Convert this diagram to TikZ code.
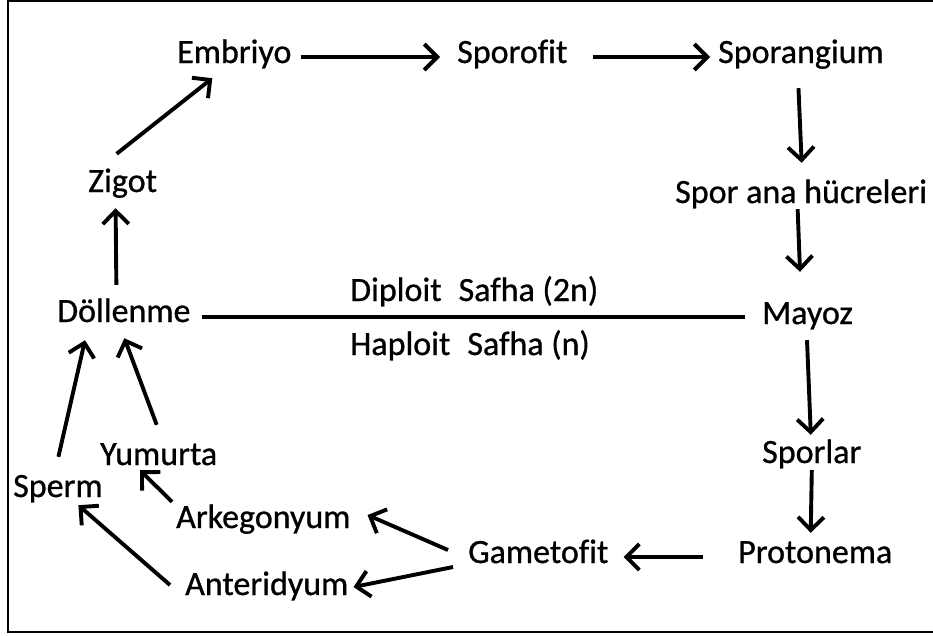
\documentclass[tikz,border=0pt]{standalone}
\usepackage{fontspec}
\setmainfont{Carlito}[Ligatures=CommonOff,FakeBold=0.8]
\usetikzlibrary{arrows.meta,calc}
\begin{document}
\begin{tikzpicture}[x=1pt,y=-1pt,
  lbl/.style={anchor=base west,inner sep=0pt,text height=22pt,text depth=7pt,
    font=\fontsize{34}{40}\selectfont},
  arr/.style={line width=3.9pt,-{Straight Barb[length=13pt,width=26pt,line width=3.9pt]}},
  phase/.style={line width=4.8pt},
  frame/.style={line width=2pt}]
\useasboundingbox (0,0) rectangle (933,635);
\draw[frame] (945,1) -- (8,1) -- (8,632) -- (945,632);
% nodes
\node[lbl] (emb) at (177,63) {Embriyo};
\node[lbl] (spf) at (457,63) {Sporofit};
\node[lbl] (spg) at (718,63) {Sporangium};
\node[lbl] (spa) at (675,203) {Spor ana hücreleri};
\node[lbl] (may) at (762,324) {Mayoz};
\node[lbl] (dol) at (57,322) {Döllenme};
\node[lbl] (dip) at (350,301) {Diploit\hspace{0.5em}Safha (2n)};
\node[lbl] (hap) at (350,355) {Haploit\hspace{0.5em}Safha (n)};
\node[lbl] (zig) at (88,192) {Zigot};
\node[lbl] (yum) at (100,465) {Yumurta};
\node[lbl] (spm) at (13,497) {Sperm};
\node[lbl] (ark) at (176,528) {Arkegonyum};
\node[lbl] (ant) at (185,595) {Anteridyum};
\node[lbl] (spl) at (762,463) {Sporlar};
\node[lbl] (pro) at (738,563) {Protonema};
\node[lbl] (gam) at (468,563) {Gametofit};
% connectors
\draw[phase] ($(dol.east)+(11,2.5)$) -- ($(may.west)+(-17,0.5)$);
\draw[arr] ($(dol.north)+(-7.5,-15)$) -- ($(zig.south)+(-7,9)$);
\draw[arr] ($(zig.north)+(-6,-16)$) -- ($(emb.south)+(-22,8)$);
\draw[arr] ($(emb.east)+(9,1.5)$) -- ($(spf.west)+(-17,1.5)$);
\draw[arr] ($(spf.east)+(25,1.5)$) -- ($(spg.west)+(-8,1.5)$);
\draw[arr] ($(spg.south)+(-2.5,18)$) -- ($(spa.north)+(0.5,-18)$);
\draw[arr] ($(spa.south)+(-3.5,-1)$) -- ($(may.north)+(-7.5,-30)$);
\draw[arr] ($(may.south)+(-0.5,9)$) -- ($(spl.north)+(-1,-6)$);
\draw[arr] ($(spl.south)+(0,0)$) -- ($(pro.north)+(-4.5,-8)$);
\draw[arr] ($(pro.west)+(-35,1.5)$) -- ($(gam.east)+(15,1.5)$);
\draw[arr] ($(gam.west)+(-20,-5.5)$) -- ($(ark.east)+(17,-5.5)$);
\draw[arr] ($(gam.west)+(-15,11.5)$) -- ($(ant.east)+(5,-0.5)$);
\draw[arr] ($(ark.north west)+(-4,-4)$) -- ($(yum.south west)+(40,-2)$);
\draw[arr] ($(ant.west)+(-15,-2.5)$) -- ($(spm.south)+(20.5,1)$);
\draw[arr] ($(spm.north)+(0.5,-18)$) -- ($(dol.south west)+(28,11)$);
\draw[arr] ($(yum.north)+(-2,-18)$) -- ($(dol.south)+(0.5,9)$);
\end{tikzpicture}
\end{document}
